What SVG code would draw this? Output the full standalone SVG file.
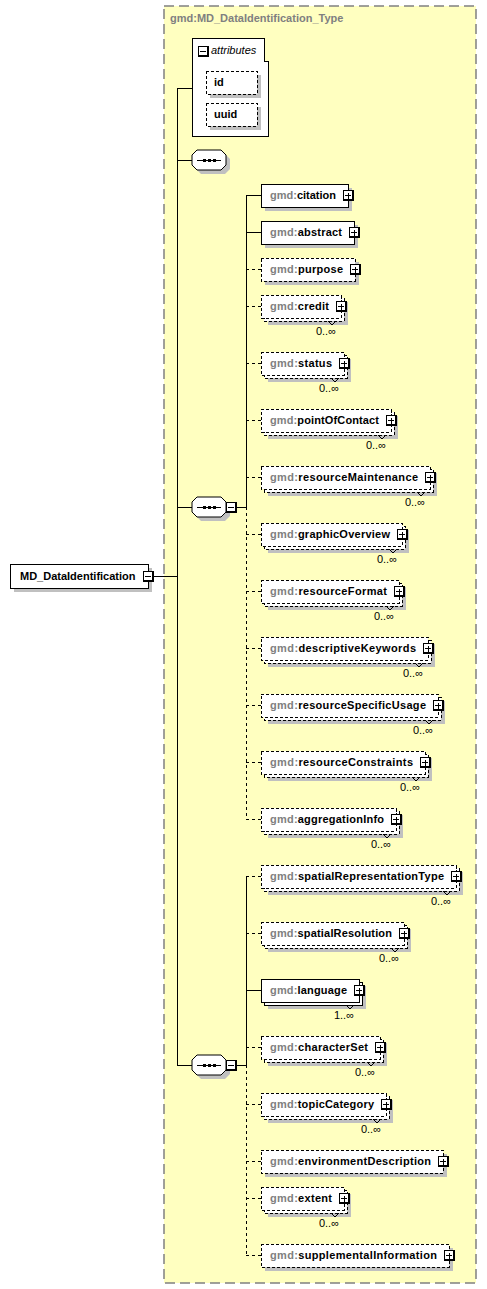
<svg xmlns="http://www.w3.org/2000/svg" xmlns:xlink="http://www.w3.org/1999/xlink" width="487" height="1289" viewBox="0 0 487 1289">
<style>
.box{fill:#fff;stroke:#000;stroke-width:1;shape-rendering:crispEdges}
.dash{stroke-dasharray:3,2}
.sh{fill:#c0c0c0;shape-rendering:crispEdges}
.el{font-family:"Liberation Sans",Arial,sans-serif;font-weight:bold;font-size:11px;fill:#000}
.ns{fill:#808080}
.mul{font-family:"Liberation Sans",Arial,sans-serif;font-size:11px;fill:#000;text-anchor:end}
.c{stroke:#000;stroke-width:1;fill:none;shape-rendering:crispEdges}
.cd{stroke-dasharray:3,3}
.n{stroke:#000;stroke-width:1;fill:none}
</style>
<defs>
<g id="plus">
<rect x="-5" y="-5" width="11" height="11" fill="#000" shape-rendering="crispEdges"/>
<rect x="-4" y="-4" width="8" height="8" fill="#fff" shape-rendering="crispEdges"/>
<path d="M-3,0.5H3M0,-2.5V3.5" stroke="#000" stroke-width="1" shape-rendering="crispEdges"/>
</g>
<g id="minus">
<rect x="-5" y="-5" width="11" height="11" fill="#000" shape-rendering="crispEdges"/>
<rect x="-4" y="-4" width="8" height="8" fill="#fff" shape-rendering="crispEdges"/>
<path d="M-3,0.5H3" stroke="#000" stroke-width="1" shape-rendering="crispEdges"/>
</g>
<g id="seq">
<path d="M-12,-10H12L17,-5V5L12,10H-12L-17,5V-5Z" transform="translate(4,4)" fill="#c0c0c0"/>
<path d="M-12,-10H12L17,-5V5L12,10H-12L-17,5V-5Z" fill="#fff" stroke="#000" stroke-width="1"/>
<path d="M-12,0.5H12" stroke="#000" stroke-width="1" shape-rendering="crispEdges"/>
<rect x="-6" y="-1" width="3" height="3" fill="#000"/>
<rect x="-1" y="-1" width="3" height="3" fill="#000"/>
<rect x="4" y="-1" width="3" height="3" fill="#000"/>
</g>
</defs>

<g id="type-frame">
<rect x="164" y="6" width="312" height="1277" fill="#ffffc0" stroke="#808080" stroke-width="1.5" stroke-dasharray="10,5"/>
<text x="170" y="22" class="el" fill="#808080" style="fill:#808080">gmd:MD_DataIdentification_Type</text>
</g>

<g id="connectors">
<path class="c" d="M152,576.5H177"/>
<path class="c" d="M177.5,88V1065"/>
<path class="c" d="M177,88.5H192"/>
<path class="c" d="M177,160.5H192"/>
<path class="c" d="M177,507.5H192"/>
<path class="c" d="M236,507.5H246"/>
<path class="c" d="M246.5,195V507"/>
<path class="c cd" d="M246.5,507V819"/>
<path class="c" d="M177,1065.5H192"/>
<path class="c" d="M236,1065.5H246"/>
<path class="c" d="M246.5,876V1065"/>
<path class="c cd" d="M246.5,1065V1255"/>
<path class="c" d="M246,195.5H261M246,232.5H261"/>
<path class="c cd" d="M246,269.5H261M246,306.5H261M246,363.5H261M246,420.5H261M246,477.5H261M246,534.5H261M246,591.5H261M246,648.5H261M246,705.5H261M246,762.5H261M246,819.5H261"/>
<path class="c cd" d="M246,876.5H261M246,933.5H261M246,1047.5H261M246,1104.5H261M246,1161.5H261M246,1198.5H261M246,1255.5H261"/>
<path class="c" d="M246,990.5H261"/>
</g>

<g id="MD_DataIdentification">
<rect class="sh" x="14" y="568" width="138" height="24"/>
<rect class="box" x="10" y="564" width="138" height="24"/>
<text class="el" x="20" y="580">MD_DataIdentification</text>
<use xlink:href="#minus" x="148" y="576"/>
</g>

<g id="attributes">
<path class="box" d="M192,38H264V61H268V136H192Z"/>
<use xlink:href="#minus" x="203" y="51"/>
<text x="211" y="54" font-family="Liberation Sans, Arial, sans-serif" font-size="11" font-style="italic" fill="#000">attributes</text>
<g id="attr-id">
<rect class="sh" x="210" y="75" width="51" height="23"/>
<rect class="box dash" x="206" y="71" width="51" height="23"/>
<text class="el" x="214" y="86">id</text>
</g>
<g id="attr-uuid">
<rect class="sh" x="210" y="107" width="51" height="23"/>
<rect class="box dash" x="206" y="103" width="51" height="23"/>
<text class="el" x="214" y="118">uuid</text>
</g>
</g>

<g id="sequence-0"><use xlink:href="#seq" x="209" y="160"/></g>
<g id="sequence-1"><use xlink:href="#seq" x="209" y="507"/><use xlink:href="#minus" x="231" y="507"/></g>
<g id="sequence-2"><use xlink:href="#seq" x="209" y="1065"/><use xlink:href="#minus" x="231" y="1065"/></g>

<g id="citation">
<rect class="sh" x="265" y="188" width="87" height="23"/>
<rect class="box" x="261" y="184" width="87" height="23"/>
<text class="el" x="270" y="199" textLength="66"><tspan class="ns">gmd:</tspan>citation</text>
<use xlink:href="#plus" x="348" y="195"/>
</g>
<g id="abstract">
<rect class="sh" x="265" y="225" width="93" height="23"/>
<rect class="box" x="261" y="221" width="93" height="23"/>
<text class="el" x="270" y="236" textLength="72"><tspan class="ns">gmd:</tspan>abstract</text>
<use xlink:href="#plus" x="354" y="232"/>
</g>
<g id="purpose">
<rect class="sh" x="265" y="262" width="94" height="23"/>
<rect class="box dash" x="261" y="258" width="94" height="23"/>
<text class="el" x="270" y="273" textLength="73"><tspan class="ns">gmd:</tspan>purpose</text>
<use xlink:href="#plus" x="355" y="269"/>
</g>
<g id="credit">
<rect class="sh" x="268" y="302" width="80" height="23"/>
<rect class="box dash" x="264" y="298" width="80" height="23"/>
<rect class="box dash" x="261" y="295" width="80" height="23"/>
<path class="n" d="M328,321l4,4l4,-4"/>
<text class="el" x="270" y="310" textLength="59"><tspan class="ns">gmd:</tspan>credit</text>
<use xlink:href="#plus" x="341" y="306"/>
<text class="mul" x="336" y="335">0..∞</text>
</g>
<g id="status">
<rect class="sh" x="268" y="359" width="83" height="23"/>
<rect class="box dash" x="264" y="355" width="83" height="23"/>
<rect class="box dash" x="261" y="352" width="83" height="23"/>
<path class="n" d="M331,378l4,4l4,-4"/>
<text class="el" x="270" y="367" textLength="62"><tspan class="ns">gmd:</tspan>status</text>
<use xlink:href="#plus" x="344" y="363"/>
<text class="mul" x="339" y="392">0..∞</text>
</g>
<g id="pointOfContact">
<rect class="sh" x="268" y="416" width="130" height="23"/>
<rect class="box dash" x="264" y="412" width="130" height="23"/>
<rect class="box dash" x="261" y="409" width="130" height="23"/>
<path class="n" d="M378,435l4,4l4,-4"/>
<text class="el" x="270" y="424" textLength="109"><tspan class="ns">gmd:</tspan>pointOfContact</text>
<use xlink:href="#plus" x="391" y="420"/>
<text class="mul" x="386" y="449">0..∞</text>
</g>
<g id="resourceMaintenance">
<rect class="sh" x="268" y="473" width="169" height="23"/>
<rect class="box dash" x="264" y="469" width="169" height="23"/>
<rect class="box dash" x="261" y="466" width="169" height="23"/>
<path class="n" d="M417,492l4,4l4,-4"/>
<text class="el" x="270" y="481" textLength="148"><tspan class="ns">gmd:</tspan>resourceMaintenance</text>
<use xlink:href="#plus" x="430" y="477"/>
<text class="mul" x="425" y="506">0..∞</text>
</g>
<g id="graphicOverview">
<rect class="sh" x="268" y="530" width="141" height="23"/>
<rect class="box dash" x="264" y="526" width="141" height="23"/>
<rect class="box dash" x="261" y="523" width="141" height="23"/>
<path class="n" d="M389,549l4,4l4,-4"/>
<text class="el" x="270" y="538" textLength="120"><tspan class="ns">gmd:</tspan>graphicOverview</text>
<use xlink:href="#plus" x="402" y="534"/>
<text class="mul" x="397" y="563">0..∞</text>
</g>
<g id="resourceFormat">
<rect class="sh" x="268" y="587" width="138" height="23"/>
<rect class="box dash" x="264" y="583" width="138" height="23"/>
<rect class="box dash" x="261" y="580" width="138" height="23"/>
<path class="n" d="M386,606l4,4l4,-4"/>
<text class="el" x="270" y="595" textLength="117"><tspan class="ns">gmd:</tspan>resourceFormat</text>
<use xlink:href="#plus" x="399" y="591"/>
<text class="mul" x="394" y="620">0..∞</text>
</g>
<g id="descriptiveKeywords">
<rect class="sh" x="268" y="644" width="167" height="23"/>
<rect class="box dash" x="264" y="640" width="167" height="23"/>
<rect class="box dash" x="261" y="637" width="167" height="23"/>
<path class="n" d="M415,663l4,4l4,-4"/>
<text class="el" x="270" y="652" textLength="146"><tspan class="ns">gmd:</tspan>descriptiveKeywords</text>
<use xlink:href="#plus" x="428" y="648"/>
<text class="mul" x="423" y="677">0..∞</text>
</g>
<g id="resourceSpecificUsage">
<rect class="sh" x="268" y="701" width="177" height="23"/>
<rect class="box dash" x="264" y="697" width="177" height="23"/>
<rect class="box dash" x="261" y="694" width="177" height="23"/>
<path class="n" d="M425,720l4,4l4,-4"/>
<text class="el" x="270" y="709" textLength="156"><tspan class="ns">gmd:</tspan>resourceSpecificUsage</text>
<use xlink:href="#plus" x="438" y="705"/>
<text class="mul" x="433" y="734">0..∞</text>
</g>
<g id="resourceConstraints">
<rect class="sh" x="268" y="758" width="164" height="23"/>
<rect class="box dash" x="264" y="754" width="164" height="23"/>
<rect class="box dash" x="261" y="751" width="164" height="23"/>
<path class="n" d="M412,777l4,4l4,-4"/>
<text class="el" x="270" y="766" textLength="143"><tspan class="ns">gmd:</tspan>resourceConstraints</text>
<use xlink:href="#plus" x="425" y="762"/>
<text class="mul" x="420" y="791">0..∞</text>
</g>
<g id="aggregationInfo">
<rect class="sh" x="268" y="815" width="135" height="23"/>
<rect class="box dash" x="264" y="811" width="135" height="23"/>
<rect class="box dash" x="261" y="808" width="135" height="23"/>
<path class="n" d="M383,834l4,4l4,-4"/>
<text class="el" x="270" y="823" textLength="114"><tspan class="ns">gmd:</tspan>aggregationInfo</text>
<use xlink:href="#plus" x="396" y="819"/>
<text class="mul" x="391" y="848">0..∞</text>
</g>
<g id="spatialRepresentationType">
<rect class="sh" x="268" y="872" width="195" height="23"/>
<rect class="box dash" x="264" y="868" width="195" height="23"/>
<rect class="box dash" x="261" y="865" width="195" height="23"/>
<path class="n" d="M443,891l4,4l4,-4"/>
<text class="el" x="270" y="880" textLength="174"><tspan class="ns">gmd:</tspan>spatialRepresentationType</text>
<use xlink:href="#plus" x="456" y="876"/>
<text class="mul" x="451" y="905">0..∞</text>
</g>
<g id="spatialResolution">
<rect class="sh" x="268" y="929" width="143" height="23"/>
<rect class="box dash" x="264" y="925" width="143" height="23"/>
<rect class="box dash" x="261" y="922" width="143" height="23"/>
<path class="n" d="M391,948l4,4l4,-4"/>
<text class="el" x="270" y="937" textLength="122"><tspan class="ns">gmd:</tspan>spatialResolution</text>
<use xlink:href="#plus" x="404" y="933"/>
<text class="mul" x="399" y="962">0..∞</text>
</g>
<g id="language">
<rect class="sh" x="268" y="986" width="98" height="23"/>
<rect class="box" x="264" y="982" width="98" height="23"/>
<rect class="box" x="261" y="979" width="98" height="23"/>
<path class="n" d="M346,1005l4,4l4,-4"/>
<text class="el" x="270" y="994" textLength="77"><tspan class="ns">gmd:</tspan>language</text>
<use xlink:href="#plus" x="359" y="990"/>
<text class="mul" x="354" y="1019">1..∞</text>
</g>
<g id="characterSet">
<rect class="sh" x="268" y="1043" width="119" height="23"/>
<rect class="box dash" x="264" y="1039" width="119" height="23"/>
<rect class="box dash" x="261" y="1036" width="119" height="23"/>
<path class="n" d="M367,1062l4,4l4,-4"/>
<text class="el" x="270" y="1051" textLength="98"><tspan class="ns">gmd:</tspan>characterSet</text>
<use xlink:href="#plus" x="380" y="1047"/>
<text class="mul" x="375" y="1076">0..∞</text>
</g>
<g id="topicCategory">
<rect class="sh" x="268" y="1100" width="125" height="23"/>
<rect class="box dash" x="264" y="1096" width="125" height="23"/>
<rect class="box dash" x="261" y="1093" width="125" height="23"/>
<path class="n" d="M373,1119l4,4l4,-4"/>
<text class="el" x="270" y="1108" textLength="104"><tspan class="ns">gmd:</tspan>topicCategory</text>
<use xlink:href="#plus" x="386" y="1104"/>
<text class="mul" x="381" y="1133">0..∞</text>
</g>
<g id="environmentDescription">
<rect class="sh" x="265" y="1154" width="182" height="23"/>
<rect class="box dash" x="261" y="1150" width="182" height="23"/>
<text class="el" x="270" y="1165" textLength="161"><tspan class="ns">gmd:</tspan>environmentDescription</text>
<use xlink:href="#plus" x="443" y="1161"/>
</g>
<g id="extent">
<rect class="sh" x="268" y="1194" width="83" height="23"/>
<rect class="box dash" x="264" y="1190" width="83" height="23"/>
<rect class="box dash" x="261" y="1187" width="83" height="23"/>
<path class="n" d="M331,1213l4,4l4,-4"/>
<text class="el" x="270" y="1202" textLength="62"><tspan class="ns">gmd:</tspan>extent</text>
<use xlink:href="#plus" x="344" y="1198"/>
<text class="mul" x="339" y="1227">0..∞</text>
</g>
<g id="supplementalInformation">
<rect class="sh" x="265" y="1248" width="188" height="23"/>
<rect class="box dash" x="261" y="1244" width="188" height="23"/>
<text class="el" x="270" y="1259" textLength="167"><tspan class="ns">gmd:</tspan>supplementalInformation</text>
<use xlink:href="#plus" x="449" y="1255"/>
</g>
</svg>
